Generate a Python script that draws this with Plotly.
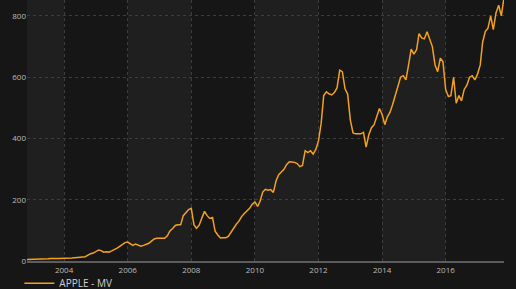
import plotly.graph_objects as go
import pandas as pd

# Monthly market value of Apple (USD bn), Nov 2002 - Nov 2017
dates = pd.date_range("2002-11-01", periods=181, freq="MS")
values_2002 = [5, 5]
values_2003 = [5, 5, 5, 5, 6, 7, 7, 8, 7, 8, 8, 8]
values_2004 = [8, 9, 10, 10, 11, 12, 12, 13, 14, 19, 24, 26]
values_2005 = [31, 36, 34, 29, 30, 29, 33, 37, 42, 48, 55, 60]
values_2006 = [62, 57, 51, 55, 52, 48, 51, 55, 58, 65, 72, 74]
values_2007 = [74, 73, 74, 82, 98, 106, 116, 118, 118, 148, 160, 168]
values_2008 = [172, 118, 107, 117, 140, 162, 148, 139, 142, 97, 85, 75]
values_2009 = [76, 76, 80, 95, 108, 120, 130, 145, 155, 163, 172, 185]
values_2010 = [193, 178, 195, 225, 234, 231, 233, 224, 262, 282, 290, 299]
values_2011 = [315, 324, 323, 322, 318, 308, 312, 360, 354, 360, 349, 364]
values_2012 = [392, 450, 540, 552, 546, 542, 550, 565, 623, 618, 562, 545]
values_2013 = [460, 418, 415, 414, 415, 420, 372, 412, 435, 445, 475, 498]
values_2014 = [478, 445, 470, 485, 510, 540, 562, 600, 605, 591, 640, 692]
values_2015 = [675, 690, 742, 728, 725, 748, 725, 700, 640, 618, 662, 650]
values_2016 = [560, 537, 540, 600, 515, 540, 523, 560, 574, 600, 605, 591]
values_2017 = [610, 640, 715, 750, 760, 800, 755, 810, 835, 800, 860]

values = (values_2002 + values_2003 + values_2004 + values_2005 + values_2006
          + values_2007 + values_2008 + values_2009 + values_2010 + values_2011
          + values_2012 + values_2013 + values_2014 + values_2015 + values_2016
          + values_2017)

series_name = "APPLE - MV"
x_tick_years = [2004, 2006, 2008, 2010, 2012, 2014, 2016]
y_tick_values = [0, 200, 400, 600, 800]

FONT = "Open Sans"
LINE_COLOR = "#f2a122"
BG = "#161616"
BAND = "#1f1f1f"
GRID = "#3d3d3d"
TICK_COLOR = "#bcbcbc"

fig = go.Figure()
fig.add_trace(go.Scatter(
    x=dates, y=values, mode="lines", name=series_name,
    line=dict(color=LINE_COLOR, width=1.5),
))

# alternating two-year background bands
band_edges = [dates[0]] + [pd.Timestamp(f"{y}-01-01") for y in x_tick_years] + [dates[-1]]
for i in range(0, len(band_edges) - 1, 2):
    fig.add_shape(type="rect", xref="x", yref="paper",
                  x0=band_edges[i], x1=band_edges[i + 1], y0=0, y1=1,
                  fillcolor=BAND, line=dict(width=0), layer="below")

fig.update_layout(
    width=516, height=289,
    margin=dict(l=27, r=12, t=0, b=28, autoexpand=False),
    paper_bgcolor=BG, plot_bgcolor=BG,
    font=dict(family=FONT, color=TICK_COLOR),
    showlegend=True,
    legend=dict(orientation="h", x=-0.016, xanchor="left", y=-0.085, yanchor="middle",
                font=dict(size=10, color="#cfcfcf", family=FONT),
                bgcolor="rgba(0,0,0,0)"),
    xaxis=dict(
        range=[dates[0], dates[-1]],
        tickvals=[pd.Timestamp(f"{y}-01-01") for y in x_tick_years],
        ticktext=[str(y) for y in x_tick_years],
        showgrid=True, gridcolor=GRID, griddash="dot", gridwidth=1,
        showline=True, linecolor="#5c5c5c", linewidth=2,
        zeroline=False, ticks="",
        tickfont=dict(size=8, color=TICK_COLOR, family=FONT),
    ),
    yaxis=dict(
        range=[0, 852],
        tickvals=y_tick_values,
        showgrid=True, gridcolor=GRID, griddash="dot", gridwidth=1,
        zeroline=False, showline=False, ticks="",
        tickfont=dict(size=8, color=TICK_COLOR, family=FONT),
    ),
)

fig.write_html("out.html")
